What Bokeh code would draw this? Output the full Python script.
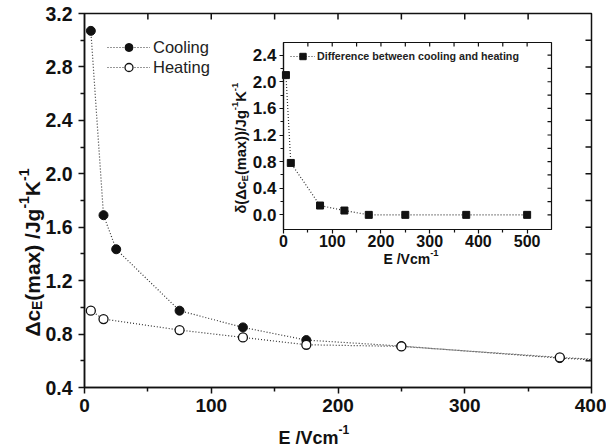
import math
from bokeh.plotting import figure
from bokeh.models import (Range1d, LinearAxis, FixedTicker, PrintfTickFormatter, Label,
                          Legend, LegendItem)
from bokeh.embed import file_html
from bokeh.resources import INLINE

# ---------------- data ----------------
E_cool = [5, 15, 25, 75, 125, 175, 250, 375, 500]
dc_cool = [3.07, 1.69, 1.435, 0.975, 0.85, 0.755, 0.71, 0.62, 0.56]
E_heat = [5, 15, 75, 125, 175, 250, 375, 500]
dc_heat = [0.975, 0.9125, 0.83, 0.775, 0.72, 0.7075, 0.625, 0.56]
E_diff = [5, 15, 75, 125, 175, 250, 375, 500]
d_diff = [2.10, 0.78, 0.14, 0.065, 0.0, 0.0, 0.0, 0.0]

MX, MY = (0, 400), (0.4, 3.2)          # main axes limits
IX, IY = (0, 550), (-0.22, 2.59)       # inset axes limits

main_x_ticks = [0, 100, 200, 300, 400]
main_x_minor = [50, 150, 250, 350]
main_y_ticks = [0.4, 0.8, 1.2, 1.6, 2.0, 2.4, 2.8, 3.2]
main_y_minor = [0.6, 1.0, 1.4, 1.8, 2.2, 2.6, 3.0]
main_top_ticks = [50, 100, 150, 200, 250, 300, 350]
main_right_ticks = [0.6, 0.8, 1.0, 1.2, 1.4, 1.6, 1.8, 2.0, 2.2, 2.4, 2.6, 2.8, 3.0]
inset_x_ticks = [0, 100, 200, 300, 400, 500]
inset_x_minor = [50, 150, 250, 350, 450]
inset_y_ticks = [0.0, 0.4, 0.8, 1.2, 1.6, 2.0, 2.4]
inset_y_minor = [0.2, 0.6, 1.0, 1.4, 1.8, 2.2]
inset_top_ticks = [50, 100, 150, 200, 250, 300, 350, 400, 450, 500]
inset_right_ticks = [0.0, 0.2, 0.4, 0.6, 0.8, 1.0, 1.2, 1.4, 1.6, 1.8, 2.0, 2.2, 2.4]

# ---------------- layout (canvas pixels) ----------------
CW, CH = 606, 447
MB = dict(l=84, r=591, t=13, b=387)     # main box
IB = dict(l=283, r=551, t=42, b=229)    # inset box

FONT = "Liberation Sans"
INK = "#111111"
LINE = "#333333"


def full_range(lim, lo_px, hi_px, total_px, flip=False):
    per = (lim[1] - lim[0]) / (hi_px - lo_px)
    if not flip:
        return Range1d(lim[0] - lo_px * per, lim[1] + (total_px - hi_px) * per)
    return Range1d(lim[0] - (total_px - hi_px) * per, lim[1] + lo_px * per)


p = figure(width=CW, height=CH, output_backend="svg", toolbar_location=None,
           x_axis_location=None, y_axis_location=None,
           x_range=full_range(MX, MB["l"], MB["r"], CW),
           y_range=full_range(MY, MB["t"], MB["b"], CH, flip=True),
           min_border=0, min_border_left=0, min_border_right=0,
           min_border_top=0, min_border_bottom=0)
p.extra_x_ranges = {"ix": full_range(IX, IB["l"], IB["r"], CW)}
p.extra_y_ranges = {"iy": full_range(IY, IB["t"], IB["b"], CH, flip=True)}
p.outline_line_color = None
p.grid.visible = False
p.background_fill_color = "white"
p.border_fill_color = "white"
INS = dict(x_range_name="ix", y_range_name="iy")


def add_axis(side, ticks, minor, fixed, bounds, fs, tick_out, minor_out, standoff, lw,
             fmt=None, inset=False):
    kw = dict(INS) if inset else {}
    ax = LinearAxis(ticker=FixedTicker(ticks=ticks, minor_ticks=minor),
                    fixed_location=fixed, bounds=bounds, **kw)
    if fmt:
        ax.formatter = PrintfTickFormatter(format=fmt)
    ax.axis_line_width = lw
    ax.axis_line_color = INK
    ax.major_tick_line_color = INK
    ax.minor_tick_line_color = INK
    ax.major_tick_line_width = lw
    ax.minor_tick_line_width = lw
    ax.major_tick_in = 0
    ax.major_tick_out = tick_out
    ax.minor_tick_in = 0
    ax.minor_tick_out = minor_out
    ax.major_label_text_font = FONT
    ax.major_label_text_font_style = "bold"
    ax.major_label_text_font_size = fs
    ax.major_label_text_color = INK
    ax.major_label_standoff = standoff
    p.add_layout(ax, side)


def mirror(top_ticks, top_val, right_ticks, right_val, length, lw, inset=False):
    kw = dict(INS) if inset else {}
    p.ray(x=top_ticks, y=[top_val] * len(top_ticks), length=length, length_units="screen",
          angle=-math.pi / 2, line_color=INK, line_width=lw, **kw)
    p.ray(x=[right_val] * len(right_ticks), y=right_ticks, length=length, length_units="screen",
          angle=math.pi, line_color=INK, line_width=lw, **kw)


# ---------------- main plot ----------------
r_cl = p.line(E_cool, dc_cool, line_dash="1 2", line_color=LINE, line_width=1.2)
r_cs = p.scatter(E_cool, dc_cool, marker="circle", size=9, fill_color=INK, line_color=INK)
r_hl = p.line(E_heat, dc_heat, line_dash="1 2", line_color=LINE, line_width=1.2)
r_hs = p.scatter(E_heat, dc_heat, marker="circle", size=9, fill_color="white", line_color=INK,
                 line_width=1.3)
# hide the part of the curves beyond the right edge of the main box
p.quad(left=[MX[1]], right=[MX[1] * 3], bottom=[MY[0] - 10], top=[MY[1] + 10],
       fill_color="white", line_color=None)
p.quad(left=[MX[0]], right=[MX[1]], bottom=[MY[0]], top=[MY[1]], fill_color=None,
       line_color=INK, line_width=1.5)
mirror(main_top_ticks, MY[1], main_right_ticks, MX[1], 6, 1.5)
add_axis("below", main_x_ticks, main_x_minor, MY[0], MX, "19px", 6, 4, 5, 1.5)
add_axis("left", main_y_ticks, main_y_minor, MX[0], MY, "19.5px", 6, 4, 6, 1.5, fmt="%.1f")

leg = Legend(items=[LegendItem(label="Cooling", renderers=[r_cl, r_cs]),
                    LegendItem(label="Heating", renderers=[r_hl, r_hs])],
             location=(107, CH - 77), padding=0, spacing=0, margin=0,
             glyph_width=43, glyph_height=20, label_height=20, label_standoff=3,
             border_line_color=None, background_fill_alpha=0,
             label_text_font=FONT, label_text_font_size="16.5px", label_text_color="#222222")
p.add_layout(leg)

# ---------------- inset ----------------
p.quad(left=[IX[0]], right=[IX[1]], bottom=[IY[0]], top=[IY[1]], fill_color="white",
       line_color=INK, line_width=1.2, **INS)
r_dl = p.line(E_diff, d_diff, line_dash="1 2", line_color=LINE, line_width=1.2, **INS)
r_ds = p.scatter(E_diff, d_diff, marker="square", size=7, fill_color=INK, line_color=INK, **INS)
mirror(inset_top_ticks, IY[1], inset_right_ticks, IX[1], 4, 1.2, inset=True)
add_axis("below", inset_x_ticks, inset_x_minor, IY[0], IX, "16px", 4, 3, 1, 1.2, inset=True)
add_axis("left", inset_y_ticks, inset_y_minor, IX[0], IY, "17px", 4, 3, 3, 1.2,
         fmt="%.1f", inset=True)

ileg = Legend(items=[LegendItem(label="Difference between cooling and heating",
                                renderers=[r_dl, r_ds])],
              location=(290, CH - 64), padding=0, spacing=0, margin=0,
              glyph_width=25, glyph_height=16, label_height=16, label_standoff=2,
              border_line_color=None, background_fill_alpha=0,
              label_text_font=FONT, label_text_font_style="bold",
              label_text_font_size="10.7px", label_text_color="#222222")
p.add_layout(ileg)

# ---------------- axis titles with sub/superscripts ----------------
WID = {'E': .667, ' ': .278, '/': .278, 'V': .667, 'c': .556, 'm': .889, '-': .333,
       '1': .556, '(': .333, ')': .333, 'a': .556, 'x': .556, 'J': .556, 'g': .611,
       'K': .722, 'Δ': .70, 'δ': .611}


def tw(s, fs):
    return sum(WID.get(ch, 0.6) for ch in s) * fs


def rich_label(pieces, x0, y0, angle=0.0):
    pos = 0.0
    for text, fs, shift in pieces:
        if angle == 0:
            cx, cy = x0 + pos, y0 + shift
        else:
            cx, cy = x0 + shift, y0 - pos
        p.add_layout(Label(x=cx, y=CH - cy, x_units="screen", y_units="screen",
                           text=text, angle=angle, text_font=FONT, text_font_style="bold",
                           text_font_size=f"{fs}px", text_align="left",
                           text_baseline="alphabetic", text_color=INK))
        pos += tw(text, fs)


rich_label([("E /Vcm", 18, 0), ("-1", 12, -8)], 278, 437)
rich_label([("Δc", 21, 0), ("E", 14, 4), ("(max) /Jg", 21, 0), ("-1", 14, -9),
            ("K", 21, 0), ("-1", 14, -9)], 32, 336, angle=math.pi / 2)
rich_label([("E /Vcm", 14, 0), ("-1", 9.5, -6)], 383, 258)
rich_label([("δ(Δc", 14.6, 0), ("E", 9.5, 3.5), ("(max))/Jg", 14.6, 0), ("-1", 9.5, -6),
            ("K", 14.6, 0), ("-1", 9.5, -6)], 240, 213, angle=math.pi / 2)

open("out.html", "w").write(file_html(p, INLINE))
